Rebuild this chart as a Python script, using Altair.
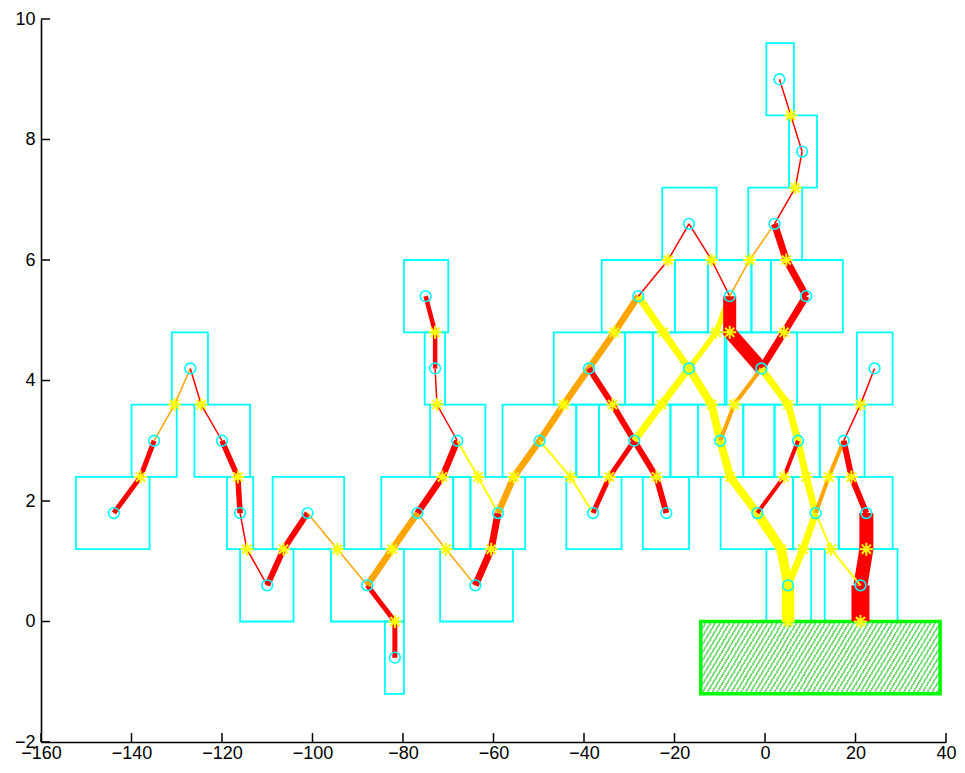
import altair as alt
import pandas as pd

# ---------------- data ----------------
X_TICKS = [-160, -140, -120, -100, -80, -60, -40, -20, 0, 20, 40]
Y_TICKS = [-2, 0, 2, 4, 6, 8, 10]

node_names = ["A", "B", "C", "D", "E", "G", "F", "H", "I", "J",
              "K", "L", "M", "N", "O", "P", "Q", "R", "S", "T",
              "U", "V", "W", "X", "Y", "Z", "Z2", "AA", "AB", "AC",
              "AD", "AE", "AF", "AG", "AH", "AI", "AJ", "AK"]
node_x = [-143.9, -135.0, -127.0, -120.0, -116.0, -110.0, -101.1, -87.9, -81.8, -76.8,
          -68.0, -72.9, -75.0, -64.0, -59.0, -49.8, -38.9, -38.0, -28.0, -28.9,
          -21.8, -16.8, -16.8, -7.8, -9.9, -0.8, 2.1, 9.1, 8.2, 3.2,
          7.3, -1.7, 5.1, 11.2, 17.4, 24.2, 22.4, 21.1]
node_y = [1.8, 3.0, 4.2, 3.0, 1.8, 0.6, 1.8, 0.6, -0.6, 1.8,
          3.0, 4.2, 5.4, 0.6, 1.8, 3.0, 4.2, 1.8, 5.4, 3.0,
          1.8, 4.2, 6.6, 5.4, 3.0, 4.2, 6.6, 5.4, 7.8, 9.0,
          3.0, 1.8, 0.6, 1.8, 3.0, 4.2, 1.8, 0.6]

star_x = [-138.0, -130.5, -124.6, -116.5, -114.5, -106.4, -94.5, -81.8, -82.4, -71.3,
          -72.5, -72.9, -70.5, -60.5, -63.4, -55.5, -44.5, -43.0, -33.3, -33.7,
          -34.4, -24.0, -22.9, -22.5, -21.4, -11.8, -10.8, -11.8, -7.8, -3.4,
          4.7, 4.2, 6.7, 5.7, -6.8, 5.1, -7.7, 3.6, 9.1, 8.4,
          5.1, 4.2, 14.1, 21.1, 19.1, 22.4, 21.1, 14.6]
star_y = [2.4, 3.6, 3.6, 2.4, 1.2, 1.2, 1.2, 0.0, 1.2, 2.4,
          3.6, 4.8, 1.2, 1.2, 2.4, 2.4, 3.6, 2.4, 4.8, 3.6,
          2.4, 2.4, 3.6, 4.8, 6.0, 6.0, 4.8, 3.6, 4.8, 6.0,
          6.0, 4.8, 7.2, 8.4, 3.6, 3.6, 2.4, 1.2, 2.4, 1.2,
          0.0, 2.4, 2.4, 3.6, 2.4, 1.2, 0.0, 1.2]

# each edge: node -> star -> node ("" = ends at the star on the ground)
edge_from = ["A", "B", "C", "D", "E", "G", "F", "H", "H", "J",
             "K", "L", "J", "N", "K", "O", "P", "P", "Q", "Q",
             "R", "T", "T", "S", "S", "W", "X", "V", "X", "Z2",
             "Z2", "AA", "Z2", "AB", "Z", "Z", "Y", "AE", "AD", "AG",
             "AF", "AE", "AG", "AH", "AH", "AJ", "AK", "AG"]
edge_star = [0, 1, 2, 3, 4, 5, 6, 7, 8, 9,
             10, 11, 12, 13, 14, 15, 16, 17, 18, 19,
             20, 21, 22, 23, 24, 25, 26, 27, 28, 29,
             30, 31, 32, 33, 34, 35, 36, 37, 38, 39,
             40, 41, 42, 43, 44, 45, 46, 47]
edge_to = ["B", "C", "D", "E", "G", "F", "H", "I", "J", "K",
           "L", "M", "N", "O", "O", "P", "Q", "R", "S", "T",
           "T", "U", "V", "V", "W", "X", "V", "Y", "Z", "X",
           "AA", "Z", "AB", "AC", "Y", "AD", "AE", "AF", "AG", "AF",
           "", "AD", "AH", "AI", "AJ", "AK", "", "AK"]
edge_color = ["red", "orange", "red", "red", "red", "red", "orange", "red", "orange", "red",
              "red", "red", "orange", "red", "yellow", "orange", "orange", "yellow", "orange", "red",
              "red", "red", "yellow", "yellow", "red", "red", "yellow", "yellow", "red", "orange",
              "red", "red", "red", "red", "orange", "yellow", "yellow", "yellow", "yellow", "yellow",
              "yellow", "red", "orange", "red", "red", "red", "red", "yellow"]
edge_width = [5, 1.5, 1.5, 5.5, 1.5, 6, 1.5, 5, 6.5, 6.5,
              1.5, 4.5, 1.5, 7, 2, 6.5, 6.5, 2, 6.5, 6,
              5, 6, 7, 7, 1.5, 1.5, 5.5, 8, 13, 1.5,
              7, 7, 1.5, 1.5, 4, 7, 8, 9.5, 7, 7,
              12.5, 4, 4, 1.5, 6, 14, 18, 2]

box_x1 = [-84.0,
          -116.0, -95.9, -71.8, 0.3, 13.2,
          -152.3, -118.9, -108.8, -84.8, -68.9, -65.1, -43.9, -27.0, -9.8, 6.2, 16.3,
          -140.0, -126.1, -74.0, -58.0, -41.7, -36.7, -20.9, -14.8, -4.8, 2.1, 12.1,
          -131.1, -75.2, -46.7, -30.9, -24.8, -8.5, 20.3,
          -79.8, -36.1, -19.9, -12.6, -3.0, 1.3,
          -22.7, -3.7,
          5.3,
          0.3]
box_x2 = [-79.8,
          -104.2, -79.8, -55.7, 10.2, 29.3,
          -136.0, -113.1, -93.0, -68.9, -65.1, -53.0, -31.7, -16.8, 6.2, 16.3, 28.2,
          -130.0, -113.8, -61.8, -41.7, -36.7, -20.9, -14.8, -4.8, 2.1, 12.1, 22.0,
          -123.1, -70.7, -30.9, -24.8, -8.9, 7.1, 28.2,
          -70.0, -19.9, -12.6, -3.0, 1.3, 17.2,
          -10.7, 8.2,
          11.5,
          6.4]
box_row = [-1.2,
           0.0, 0.0, 0.0, 0.0, 0.0,
           1.2, 1.2, 1.2, 1.2, 1.2, 1.2, 1.2, 1.2, 1.2, 1.2, 1.2,
           2.4, 2.4, 2.4, 2.4, 2.4, 2.4, 2.4, 2.4, 2.4, 2.4, 2.4,
           3.6, 3.6, 3.6, 3.6, 3.6, 3.6, 3.6,
           4.8, 4.8, 4.8, 4.8, 4.8, 4.8,
           6.0, 6.0,
           7.2,
           8.4]
ROW_H = 1.2

ground_x1 = [-14.2]
ground_x2 = [38.7]
ground_y1 = [-1.2]
ground_y2 = [0.0]

COLORS = {"red": "#FF0000", "orange": "#FFA500", "yellow": "#FFFF00"}

# ---------------- tables ----------------
nodes = {n: (x, y) for n, x, y in zip(node_names, node_x, node_y)}
node_df = pd.DataFrame({"x": node_x, "y": node_y})
star_df = pd.DataFrame({"x": star_x, "y": star_y})

rows = []
for i, (a, s, b, c, w) in enumerate(zip(edge_from, edge_star, edge_to, edge_color, edge_width)):
    pts = [nodes[a], (star_x[s], star_y[s])]
    if b:
        pts.append(nodes[b])
    for k, (px, py) in enumerate(pts):
        rows.append({"edge": i, "seq": k, "x": px, "y": py,
                     "color": COLORS[c], "width": w})
line_df = pd.DataFrame(rows)

box_df = pd.DataFrame({"x1": box_x1, "x2": box_x2,
                       "y1": box_row, "y2": [r + ROW_H for r in box_row]})
ground_df = pd.DataFrame({"x1": ground_x1, "x2": ground_x2,
                          "y1": ground_y1, "y2": ground_y2})
xt_df = pd.DataFrame({"v": X_TICKS})
yt_df = pd.DataFrame({"v": Y_TICKS})

# ---------------- styling ----------------
W, H = 905, 723
FONT = "Liberation Sans"

xscale = alt.Scale(domain=[-160, 40], nice=False, zero=False)
yscale = alt.Scale(domain=[-2, 10], nice=False, zero=False)

common_axis = dict(ticks=False, tickSize=0, grid=False, domainColor="black",
                   domainWidth=1.6, labelFont=FONT, labelFontSize=18,
                   labelColor="black", labelFlush=False, labelOverlap=False,
                   format="d", title="")
xaxis = alt.Axis(values=X_TICKS, labelPadding=2, **common_axis)
yaxis = alt.Axis(values=Y_TICKS, labelPadding=6, **common_axis)

X = alt.X("x:Q", scale=xscale, axis=xaxis)
Y = alt.Y("y:Q", scale=yscale, axis=yaxis)

HATCH_N = 62
HATCH_GREEN = "#78dc78"
stops = []
for k in range(HATCH_N):
    a = k / HATCH_N
    b = (k + 0.42) / HATCH_N
    stops += [{"offset": a, "color": "#ffffff"}, {"offset": a, "color": HATCH_GREEN},
              {"offset": b, "color": HATCH_GREEN}, {"offset": b, "color": "#ffffff"}]
hatch = {"gradient": "linear", "x1": 0, "y1": 0, "x2": 1.2, "y2": 0.216, "stops": stops}

ASTERISK = "M-1,0L1,0M0,-1L0,1M-0.7,-0.7L0.7,0.7M-0.7,0.7L0.7,-0.7"

boxes = alt.Chart(box_df).mark_rect(fillOpacity=0, stroke="#00FFFF", strokeWidth=1.8).encode(
    x=alt.X("x1:Q", scale=xscale, axis=xaxis), x2="x2:Q",
    y=alt.Y("y1:Q", scale=yscale, axis=yaxis), y2="y2:Q")

ground = alt.Chart(ground_df).mark_rect(fill=hatch, stroke="#00FF00", strokeWidth=3.5).encode(
    x="x1:Q", x2="x2:Q", y="y1:Q", y2="y2:Q")

lines = alt.Chart(line_df).mark_line(strokeCap="butt", strokeJoin="miter").encode(
    x=X, y=Y, detail="edge:N", order="seq:Q",
    color=alt.Color("color:N", scale=None),
    strokeWidth=alt.StrokeWidth("width:Q", scale=None))

circles = alt.Chart(node_df).mark_point(shape="circle", filled=False, size=115,
                                        color="#00FFFF", strokeWidth=1.6, opacity=1).encode(x=X, y=Y)

stars = alt.Chart(star_df).mark_point(shape=ASTERISK, filled=False, size=170,
                                      color="#FFFF00", strokeWidth=2, opacity=1).encode(x=X, y=Y)

xticks = alt.Chart(xt_df).mark_rule(color="black", strokeWidth=1.5).encode(
    x=alt.X("v:Q", scale=xscale, axis=xaxis), y=alt.value(H), y2=alt.value(H - 9))
yticks = alt.Chart(yt_df).mark_rule(color="black", strokeWidth=1.5).encode(
    y=alt.Y("v:Q", scale=yscale, axis=yaxis), x=alt.value(0), x2=alt.value(9))

chart = alt.layer(boxes, ground, lines, circles, stars, xticks, yticks).properties(
    width=W, height=H,
    padding={"left": 33, "top": 11, "right": 11, "bottom": 22},
    autosize=alt.AutoSizeParams(type="none"),
    background="white",
).configure_view(strokeWidth=0)

chart.save("out.html", embed_options={"renderer": "svg", "actions": False})
